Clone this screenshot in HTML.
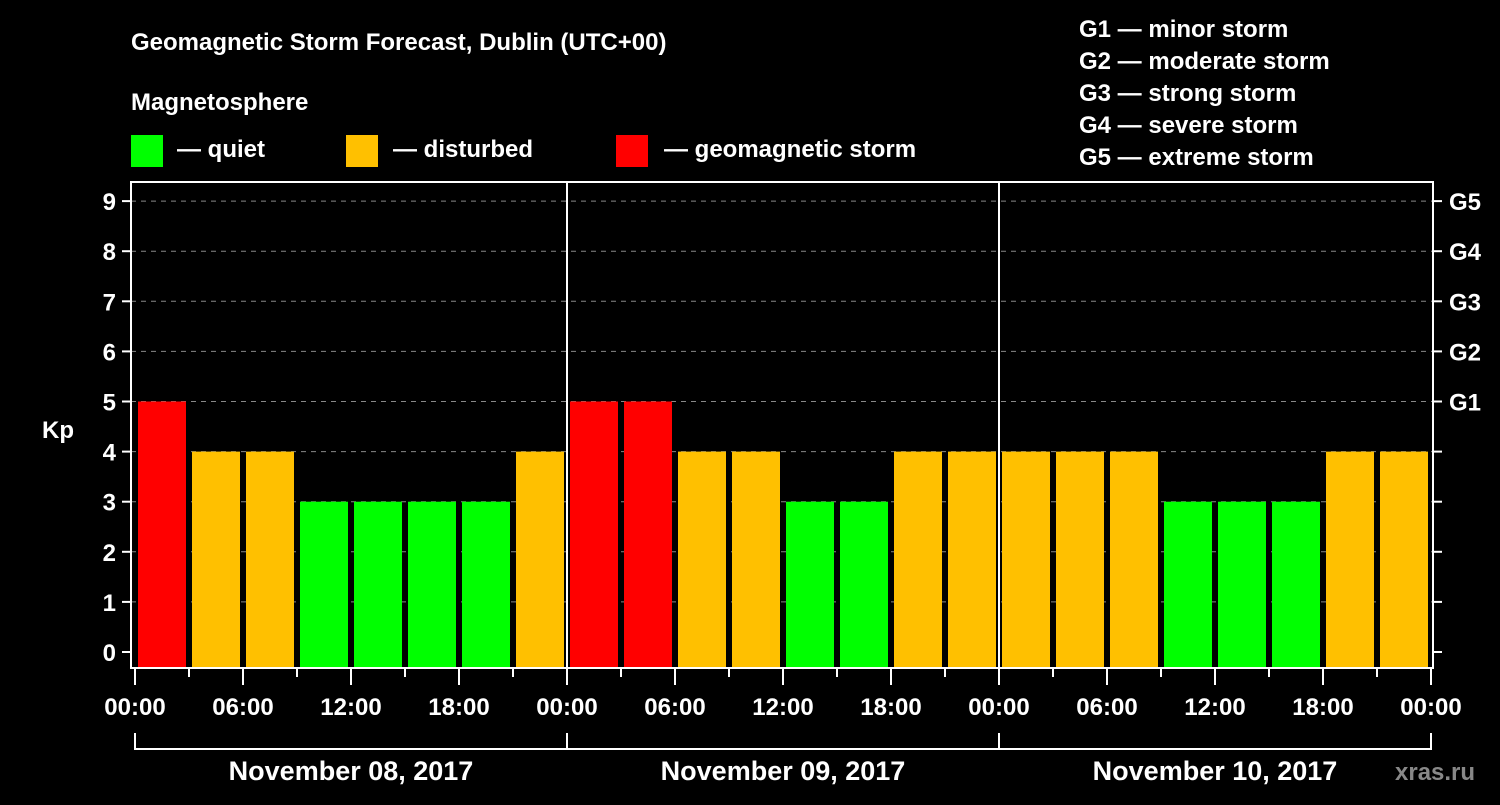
<!DOCTYPE html>
<html><head><meta charset="utf-8"><style>
html,body{margin:0;padding:0;background:#000;}
svg text{font-family:"Liberation Sans",Arial,sans-serif;font-weight:bold;fill:#fff;}
</style></head><body>
<svg id="chart" width="1500" height="800" xmlns="http://www.w3.org/2000/svg">
<rect width="1500" height="800" fill="#000"/>
<text x="131" y="50" font-size="24">Geomagnetic Storm Forecast, Dublin (UTC+00)</text>
<text x="131" y="110" font-size="24">Magnetosphere</text>
<g><rect x="131" y="135" width="32" height="32" fill="#00FF00"/><text x="177" y="157" font-size="24">— quiet</text></g>
<g><rect x="346" y="135" width="32" height="32" fill="#FFC000"/><text x="393" y="157" font-size="24">— disturbed</text></g>
<g><rect x="616" y="135" width="32" height="32" fill="#FF0000"/><text x="664" y="157" font-size="24">— geomagnetic storm</text></g>
<g font-size="24">
<text x="1079" y="37">G1 — minor storm</text>
<text x="1079" y="69">G2 — moderate storm</text>
<text x="1079" y="101">G3 — strong storm</text>
<text x="1079" y="133">G4 — severe storm</text>
<text x="1079" y="165">G5 — extreme storm</text>
</g>
<text x="42" y="438" font-size="24">Kp</text>
<g id="grid"></g><g id="bars"></g><g id="axes"></g>
<text x="1395" y="780" font-size="24" fill="#888" style="fill:#888">xras.ru</text>
</svg>
<script>
const kpValues=[5,4,4,3,3,3,3,4, 5,5,4,4,3,3,4,4, 4,4,4,3,3,3,4,4];
const dayLabels=["November 08, 2017","November 09, 2017","November 10, 2017"];
const yTicks=[0,1,2,3,4,5,6,7,8,9];
const gLabels=["G1","G2","G3","G4","G5"];
const timeLabels=["00:00","06:00","12:00","18:00"];
const NS="http://www.w3.org/2000/svg";
const L=131,R=1433,T=182,B=668;
const x0=135,hourPx=18;
const yS=v=>652-v*50.1;
const xS=h=>x0+h*hourPx;
function mk(tag,attrs,parent){const e=document.createElementNS(NS,tag);for(const k in attrs)e.setAttribute(k,attrs[k]);parent.appendChild(e);return e;}
const grid=document.getElementById('grid'),bars=document.getElementById('bars'),axes=document.getElementById('axes');
yTicks.forEach(v=>{
  if(v>0){const g=mk('line',{x1:L,x2:R,y1:yS(v),y2:yS(v),stroke:'#888','stroke-dasharray':'5,5','stroke-width':1},grid);
  
  }
  const t=mk('line',{x1:L-9,x2:L,y1:yS(v),y2:yS(v),stroke:'#fff','stroke-width':2},axes);
  
  
  const t2=mk('line',{x1:R,x2:R+9,y1:yS(v),y2:yS(v),stroke:'#fff','stroke-width':2},axes);
  
  
  const lb=mk('text',{x:L-15,y:yS(v)+9,'font-size':24,'text-anchor':'end'},axes);lb.textContent=v;
  
  
});
gLabels.forEach((g,i)=>{
  const lb=mk('text',{x:R+16,y:yS(5+i)+9,'font-size':24},axes);lb.textContent=g;
  
  
});
kpValues.forEach((v,i)=>{
  const c=v>=5?'#FF0000':(v>=4?'#FFC000':'#00FF00');
  const r=mk('rect',{x:xS(i*3)+3,y:yS(v),width:48,height:B-yS(v),fill:c},bars);
  
  
});
mk('rect',{x:L,y:T,width:R-L,height:B-T,fill:'none',stroke:'#fff','stroke-width':2},axes);
for(let d=1;d<dayLabels.length;d++){
  const l=mk('line',{x1:xS(d*24),x2:xS(d*24),y1:T,y2:B,stroke:'#fff','stroke-width':2},axes);
  
  
}
for(let h=0;h<=dayLabels.length*24;h+=3){
  const major=h%6===0;
  const t=mk('line',{x1:xS(h),x2:xS(h),y1:B,y2:B+(major?17:9),stroke:'#fff','stroke-width':2},axes);
  
  
  if(major){const lb=mk('text',{x:xS(h),y:715,'font-size':24,'text-anchor':'middle'},axes);
  lb.textContent=timeLabels[(h%24)/6];
  
  }
}
dayLabels.forEach((d,i)=>{
  const p=mk('path',{d:`M${xS(i*24)},733 V749 H${xS(i*24+24)} V733`,fill:'none',stroke:'#fff','stroke-width':2},axes);
  
  
  const lb=mk('text',{x:xS(i*24+12),y:780,'font-size':27,'text-anchor':'middle'},axes);lb.textContent=d;
  
  
});
</script>
</body></html>
